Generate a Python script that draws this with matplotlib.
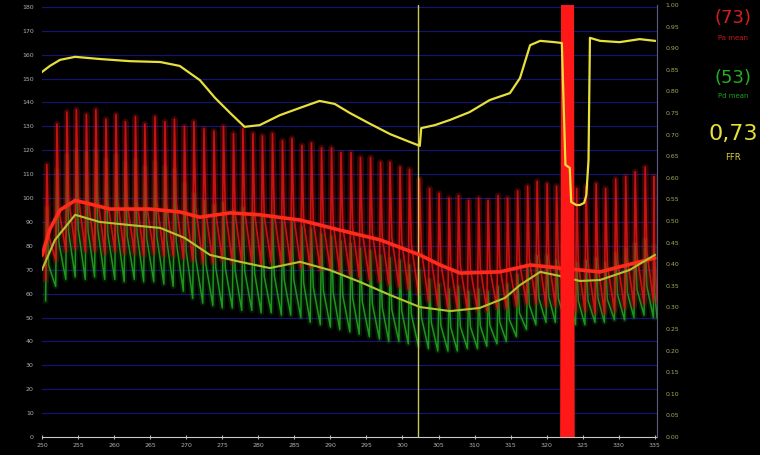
import matplotlib
matplotlib.use("Agg")
import matplotlib.pyplot as plt

# ---- recorded beats (time in s, pressure in mmHg) ----
beat_t = [250.5, 251.9, 253.3, 254.6, 256.0, 257.3, 258.7, 260.1, 261.4, 262.8,
          264.1, 265.5, 266.9, 268.2, 269.6, 270.9, 272.3, 273.7, 275.0, 276.4,
          277.7, 279.1, 280.4, 281.8, 283.2, 284.5, 285.9, 287.2, 288.6, 290.0,
          291.3, 292.7, 294.0, 295.4, 296.8, 298.1, 299.5, 300.8, 302.2, 303.6,
          304.9, 306.3, 307.6, 309.0, 310.4, 311.7, 313.1, 314.4, 315.8, 317.2,
          318.5, 319.9, 321.2, 322.6, 324.0, 325.3, 326.7, 328.0, 329.4, 330.8,
          332.1, 333.5, 334.8]
end_t = 335.3

pa_sys = [114, 131, 136, 137, 135, 137, 133, 135, 132, 134,
          131, 134, 132, 133, 130, 132, 129, 128, 130, 127,
          129, 127, 126, 127, 124, 125, 122, 123, 121, 121,
          119, 119, 117, 117, 115, 115, 113, 112, 108, 104,
          102, 100, 101, 99, 100, 99, 101, 100, 103, 105,
          107, 106, 105, 108, 104, 105, 106, 104, 108, 109,
          111, 113, 109]
pa_dia = [66, 74, 78, 79, 78, 78, 77, 78, 77, 77,
          76, 77, 76, 76, 75, 74, 73, 73, 74, 73,
          73, 73, 72, 73, 72, 72, 71, 71, 70, 70,
          69, 68, 67, 66, 65, 64, 63, 62, 60, 57,
          55, 54, 54, 53, 53, 53, 54, 54, 55, 56,
          56, 55, 55, 55, 53, 53, 52, 52, 53, 54,
          55, 56, 57]
pd_sys = [96, 112, 118, 120, 119, 120, 116, 118, 115, 116, 113, 115, 113, 112,
          106, 102, 99, 97, 98, 95, 96, 94, 92, 93, 90, 90, 88,
          87, 85, 84, 82, 81, 79, 78, 76, 75, 74, 72,
          70, 66, 64, 62, 63, 61, 62, 61, 63, 64,
          68, 72, 76, 76, 74, 77, 73, 74, 75, 73, 77, 79, 81, 83, 80]
pd_dia = [57, 63, 66, 67, 66, 67, 66, 66, 65, 66, 65, 65, 64, 63,
          61, 58, 56, 55, 54, 54, 53, 53, 52, 52, 51, 51, 50,
          48, 47, 46, 45, 44, 43, 42, 41, 40, 40, 39,
          38, 37, 36, 36, 36, 37, 37, 38, 39, 40,
          42, 45, 47, 48, 48, 48, 47, 47, 48, 48, 49, 49, 50, 51, 50]

# ---- moving means ----
pa_mean_t = [250.0, 251.1, 252.5, 254.6, 256.7, 259.4, 265.0, 269.1, 271.9, 276.1,
             280.2, 285.8, 291.3, 296.9, 302.4, 305.2, 308.0, 313.5, 317.7, 321.8,
             324.6, 327.4, 330.1, 335.0]
pa_mean = [76, 87, 95, 99, 97.5, 95.4, 95.4, 94.2, 92, 93.8,
           93, 90.8, 86.6, 82.5, 76.2, 72, 68.6, 69.1, 72, 70.7,
           69.9, 69.1, 71.2, 74.9]
pd_mean_t = [250.0, 251.8, 254.6, 258.0, 262.2, 266.4, 269.8, 273.3, 277.5, 281.6,
             285.8, 289.9, 294.1, 298.3, 302.4, 306.6, 310.7, 314.2, 316.3, 319.1,
             321.8, 324.6, 327.4, 331.5, 335.0]
pd_mean = [70, 82.5, 93, 90, 88.7, 87.5, 83.3, 76.2, 73.3, 70.7,
           73.3, 69.9, 64.9, 59.4, 54.4, 52.7, 54, 58.2, 63.6, 69.1,
           67.4, 65.3, 65.7, 69.9, 76.2]

# ---- FFR (Pd/Pa) trend, right axis ----
ffr_t = [250.0, 251.1, 252.5, 254.6, 258.0, 262.2, 266.4, 269.1, 271.9, 274.0,
         276.1, 278.1, 280.2, 283.0, 285.8, 288.5, 290.6, 292.7, 295.5, 298.3,
         301.0, 302.4, 302.6, 304.5, 306.6, 309.3, 312.1, 314.2, 314.9, 316.3,
         317.7, 319.1, 321.1, 322.1, 322.6, 323.2, 323.4, 324.1, 324.6, 325.2,
         325.5, 325.8, 326.0, 327.4, 330.1, 332.9, 335.0]
ffr = [0.845, 0.859, 0.873, 0.880, 0.875, 0.870, 0.868, 0.859, 0.826, 0.785,
       0.750, 0.718, 0.722, 0.745, 0.762, 0.778, 0.771, 0.750, 0.725, 0.701,
       0.683, 0.674, 0.715, 0.722, 0.734, 0.752, 0.780, 0.792, 0.796, 0.831,
       0.907, 0.917, 0.914, 0.912, 0.630, 0.623, 0.544, 0.537, 0.537, 0.542,
       0.560, 0.641, 0.924, 0.917, 0.914, 0.921, 0.917]

# ---- flush artefact (catheter flush) ----
flush_t = [322.15, 322.3, 322.45, 322.6, 322.75, 322.9, 323.05, 323.2, 323.35, 323.5, 323.6]
flush_p = [0, 190, 0, 190, 0, 190, 0, 190, 0, 190, 0]

cursor_t = 302.2
x_ticks = list(range(250, 336, 5))
left_ticks = list(range(0, 181, 10))
right_ticks = [round(0.05 * k, 2) for k in range(21)]

readout_pa = "(73)"
readout_pd = "(53)"
readout_ffr = "0,73"

# normalised pulse contour: fraction of the beat interval vs. fraction of pulse height
PULSE_PHASE = [0.0, 0.12, 0.30, 1.0]
PULSE_LEVEL = [0.0, 1.0, 0.38, 0.0]


def pulse_trace(times, sys_vals, dia_vals, t_end):
    """Beat-by-beat pressure contour drawn from each beat's systolic/diastolic values."""
    xs, ys = [], []
    nxt = list(times[1:]) + [t_end]
    for t0, t1, s, d in zip(times, nxt, sys_vals, dia_vals):
        for ph, lv in zip(PULSE_PHASE[:-1], PULSE_LEVEL[:-1]):
            xs.append(t0 + ph * (t1 - t0))
            ys.append(d + lv * (s - d))
    xs.append(t_end)
    ys.append(dia_vals[-1])
    return xs, ys


W, H = 760, 455
fig = plt.figure(figsize=(W / 100, H / 100), dpi=100, facecolor="black")
ax = fig.add_axes([42 / W, (H - 437) / H, 615 / W, 432 / H], facecolor="black")

ax.set_xlim(250, 335.3)
ax.set_ylim(0, 180.8)

for v in left_ticks[1:]:
    ax.axhline(v, color="#15156e", lw=0.9, zorder=0)

xa, ya = pulse_trace(beat_t, pa_sys, pa_dia, end_t)
xd, yd = pulse_trace(beat_t, pd_sys, pd_dia, end_t)
# soft glow under each trace, then the trace itself
ax.plot(xd, yd, color="#1a7a1a", lw=4.0, alpha=0.22, zorder=1)
ax.plot(xd, yd, color="#1f951f", lw=1.1, zorder=2)
ax.plot(xa, ya, color="#b01010", lw=4.5, alpha=0.3, zorder=2.5)
ax.plot(xa, ya, color="#d81414", lw=1.2, alpha=0.9, zorder=3)

ax.plot(pa_mean_t, pa_mean, color="#ff2a1a", lw=2.6, zorder=5, solid_capstyle="round")
ax.plot(pd_mean_t, pd_mean, color="#b0c430", lw=1.5, zorder=5)

ax.plot(flush_t, flush_p, color="#ff1818", lw=3.0, zorder=6)
ax.axvline(cursor_t, color="#c8c85a", lw=1.0, zorder=4)

ax.set_xticks(x_ticks)
ax.set_xticklabels([str(v) for v in x_ticks])
ax.set_yticks(left_ticks)
ax.tick_params(axis="x", colors="#b0b0b0", labelsize=4.5, length=3, direction="inout", pad=3)
ax.tick_params(axis="y", colors="#b0b0b0", labelsize=4.5, length=0, pad=6)
for s in ["top", "left"]:
    ax.spines[s].set_visible(False)
ax.spines["bottom"].set_color("#c8c8c8")
ax.spines["right"].set_color("#5a5a7a")

ax2 = ax.twinx()
ax2.set_ylim(0, 1.0)
ax2.plot(ffr_t, ffr, color="#e8e03a", lw=1.6, zorder=7)
ax2.set_yticks(right_ticks)
ax2.set_yticklabels([f"{v:.2f}" for v in right_ticks])
ax2.tick_params(axis="y", colors="#a8a860", labelsize=4.5, length=0, pad=6)
for s in ["top", "left", "bottom"]:
    ax2.spines[s].set_visible(False)
ax2.spines["right"].set_color("#5a5a7a")


def fy(py):
    return 1 - py / H


# live readouts
fig.text(733 / W, fy(18), readout_pa, color="#d42020", fontsize=13, ha="center", va="center")
fig.text(733 / W, fy(38), "Pa mean", color="#c81818", fontsize=5, ha="center", va="center")
fig.text(733 / W, fy(78), readout_pd, color="#22b022", fontsize=13, ha="center", va="center")
fig.text(733 / W, fy(96), "Pd mean", color="#1ea01e", fontsize=5, ha="center", va="center")
fig.text(733 / W, fy(134), readout_ffr, color="#e8e03a", fontsize=16, ha="center", va="center")
fig.text(733 / W, fy(158), "FFR", color="#d8d040", fontsize=6, ha="center", va="center")

fig.savefig("out.png", dpi=100, facecolor="black")
